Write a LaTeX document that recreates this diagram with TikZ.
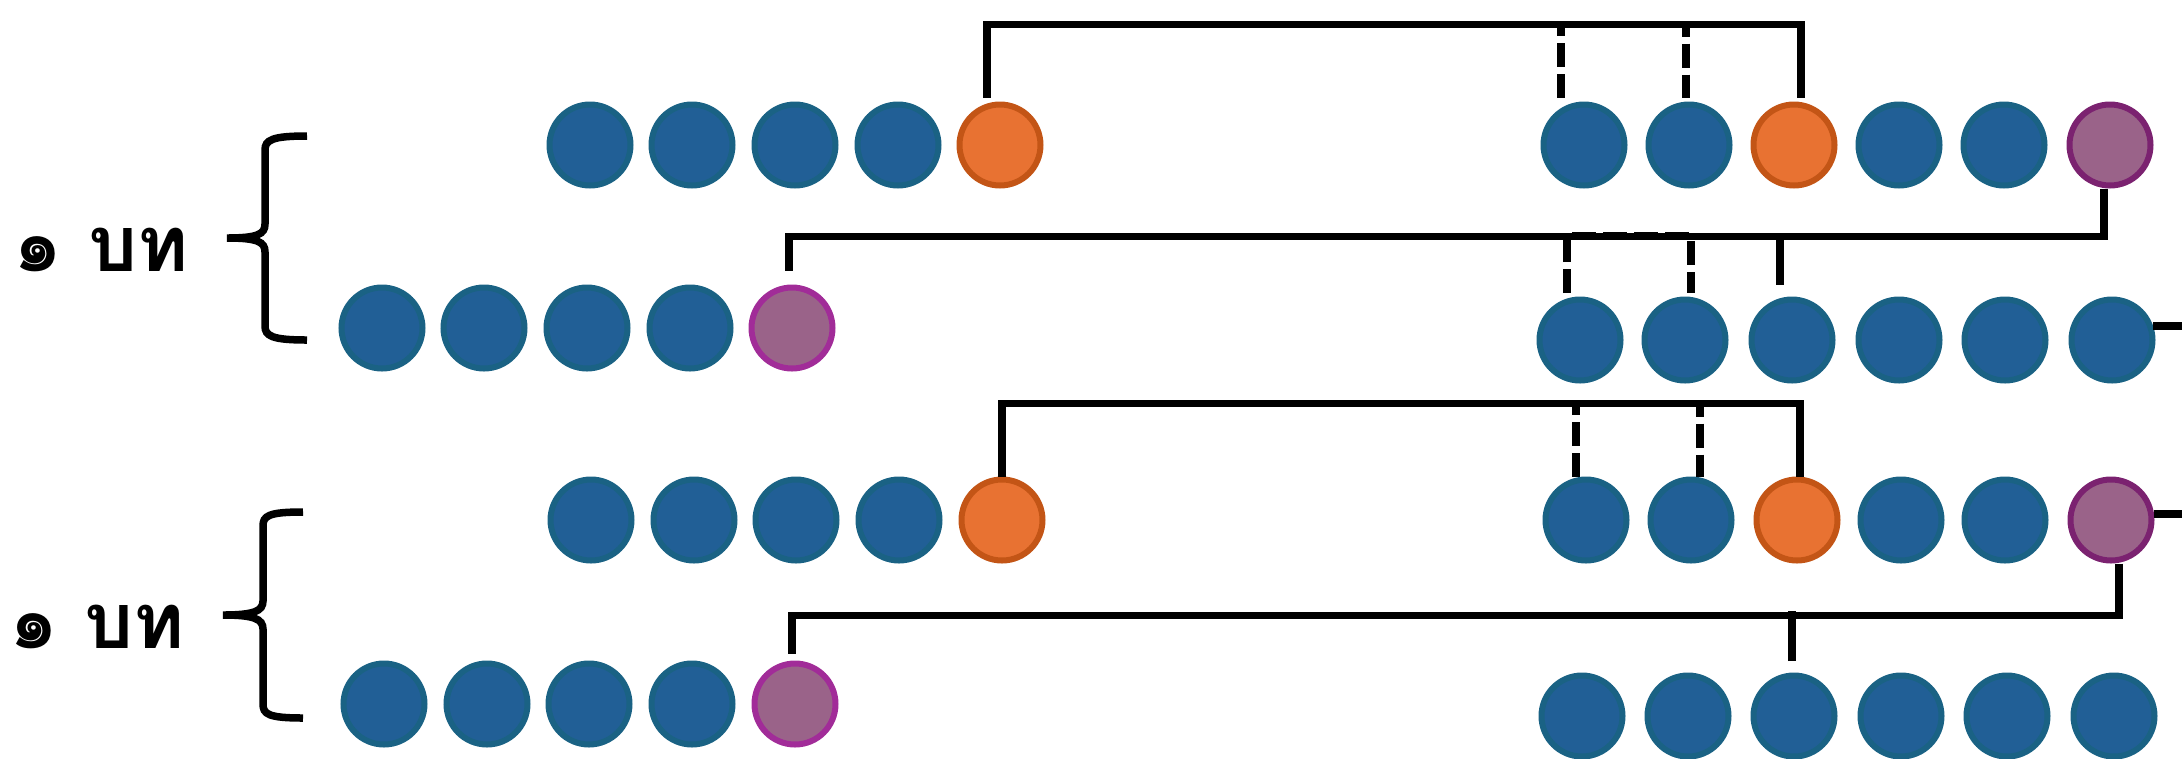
\documentclass[tikz,border=0pt]{standalone}
\usepackage{fontspec}
\usepackage{tikz}
\newfontfamily\thaifont[Script=Thai]{Loma}

\definecolor{dotblue}{HTML}{215F96}
\definecolor{dotblueedge}{HTML}{1A6284}
\definecolor{dotorange}{HTML}{E87232}
\definecolor{dotorangeedge}{HTML}{C35516}
\definecolor{dotpurple}{HTML}{9A6389}
\definecolor{dotpurpleedge}{HTML}{A12C98}
\definecolor{dotplumedge}{HTML}{7B2270}

\begin{document}
\begin{tikzpicture}[
  x=0.1mm, y=-0.1mm,
  dot/.style={circle, minimum size=8.1mm, inner sep=0pt, line width=0.6mm},
  blu/.style={dot, fill=dotblue, draw=dotblueedge},
  org/.style={dot, fill=dotorange, draw=dotorangeedge},
  pur/.style={dot, fill=dotpurple, draw=dotpurpleedge},
  plum/.style={dot, fill=dotpurple, draw=dotplumedge},
  link/.style={line width=0.75mm},
  dlink/.style={link, dash pattern=on 2.4mm off 0.7mm},
  brace/.style={line width=0.75mm},
  lbl/.style={font=\thaifont\bfseries\fontsize{22}{26}\selectfont, inner sep=0pt}
]
\useasboundingbox (0,0) rectangle (2182,758);

% first verse
\node[lbl] (lbl1) at (101,250) {๑ บท};
\draw[brace] (307,136) .. controls (272,136) and (265,140) .. (265,150) -- (265,224)
  .. controls (265,234) and (258,238) .. (227,238) .. controls (258,238) and (265,242) .. (265,252)
  -- (265,326) .. controls (265,336) and (272,340) .. (307,340);

\node[blu] (a1) at (590,145) {}; \node[blu] (a2) at (692,145) {}; \node[blu] (a3) at (795,145) {}; \node[blu] (a4) at (898,145) {}; \node[org] (a5) at (1000,145) {};
\node[blu] (b1) at (1584,145) {}; \node[blu] (b2) at (1689,145) {}; \node[org] (b3) at (1794,145) {}; \node[blu] (b4) at (1899,145) {}; \node[blu] (b5) at (2004,145) {}; \node[plum] (b6) at (2110,145) {};
\node[blu] (c1) at (382,328) {}; \node[blu] (c2) at (484,328) {}; \node[blu] (c3) at (587,328) {}; \node[blu] (c4) at (690,328) {}; \node[pur] (c5) at (792,328) {};
\node[blu] (d1) at (1580,340) {}; \node[blu] (d2) at (1685,340) {}; \node[blu] (d3) at (1792,340) {}; \node[blu] (d4) at (1899,340) {}; \node[blu] (d5) at (2005,340) {}; \node[blu] (d6) at (2112,340) {};

\draw[link] ([xshift=-1.3mm,yshift=.4mm]a5.north) -- ++(0,-73) -| ([xshift=.7mm,yshift=.4mm]b3.north);
\draw[dlink] ([xshift=-2.3mm,yshift=.4mm]b1.north) -- ++(0,-73) -| ([xshift=-.3mm,yshift=.4mm]b2.north);
\draw[link] ([xshift=-.6mm]b6.south) -- ++(0,48) -| ([xshift=-.3mm,yshift=1.4mm]c5.north);
\draw[dlink] ([xshift=-1.3mm,yshift=.35mm]d1.north) -- ++(0,-57) -| ([xshift=.6mm,yshift=.35mm]d2.north);
\draw[link] ([xshift=-1.2mm,yshift=1.2mm]d3.north) -- ++(0,-48);
\draw[link] (d6.19) -- ++(40,0);

% second verse
\node[lbl] (lbl2) at (97,627) {๑ บท};
\draw[brace] (303,512) .. controls (268,512) and (263,516) .. (263,526) -- (263,601)
  .. controls (263,611) and (254,615) .. (223,615) .. controls (254,615) and (263,619) .. (263,629)
  -- (263,704) .. controls (263,714) and (268,718) .. (303,718);

\node[blu] (e1) at (591,520) {}; \node[blu] (e2) at (694,520) {}; \node[blu] (e3) at (796,520) {}; \node[blu] (e4) at (899,520) {}; \node[org] (e5) at (1002,520) {};
\node[blu] (f1) at (1586,520) {}; \node[blu] (f2) at (1691,520) {}; \node[org] (f3) at (1797,520) {}; \node[blu] (f4) at (1901,520) {}; \node[blu] (f5) at (2005,520) {}; \node[plum] (f6) at (2111,520) {};
\node[blu] (g1) at (384,704) {}; \node[blu] (g2) at (487,704) {}; \node[blu] (g3) at (589,704) {}; \node[blu] (g4) at (692,704) {}; \node[pur] (g5) at (795,704) {};
\node[blu] (h1) at (1582,716) {}; \node[blu] (h2) at (1688,716) {}; \node[blu] (h3) at (1794,716) {}; \node[blu] (h4) at (1901,716) {}; \node[blu] (h5) at (2007,716) {}; \node[blu] (h6) at (2114,716) {};

\draw[link] (e5.north) -- ++(0,-73) -| ([xshift=.3mm]f3.north);
\draw[dlink] ([xshift=-1mm]f1.north) -- ++(0,-73) -| ([xshift=.9mm]f2.north);
\draw[link] (f6.8) -- ++(40,0);
\draw[link] ([xshift=.8mm]f6.south) -- ++(0,52) -| ([xshift=-.3mm,yshift=.65mm]g5.north);
\draw[link] ([xshift=-.2mm,yshift=1.15mm]h3.north) -- ++(0,-50);
\end{tikzpicture}
\end{document}
